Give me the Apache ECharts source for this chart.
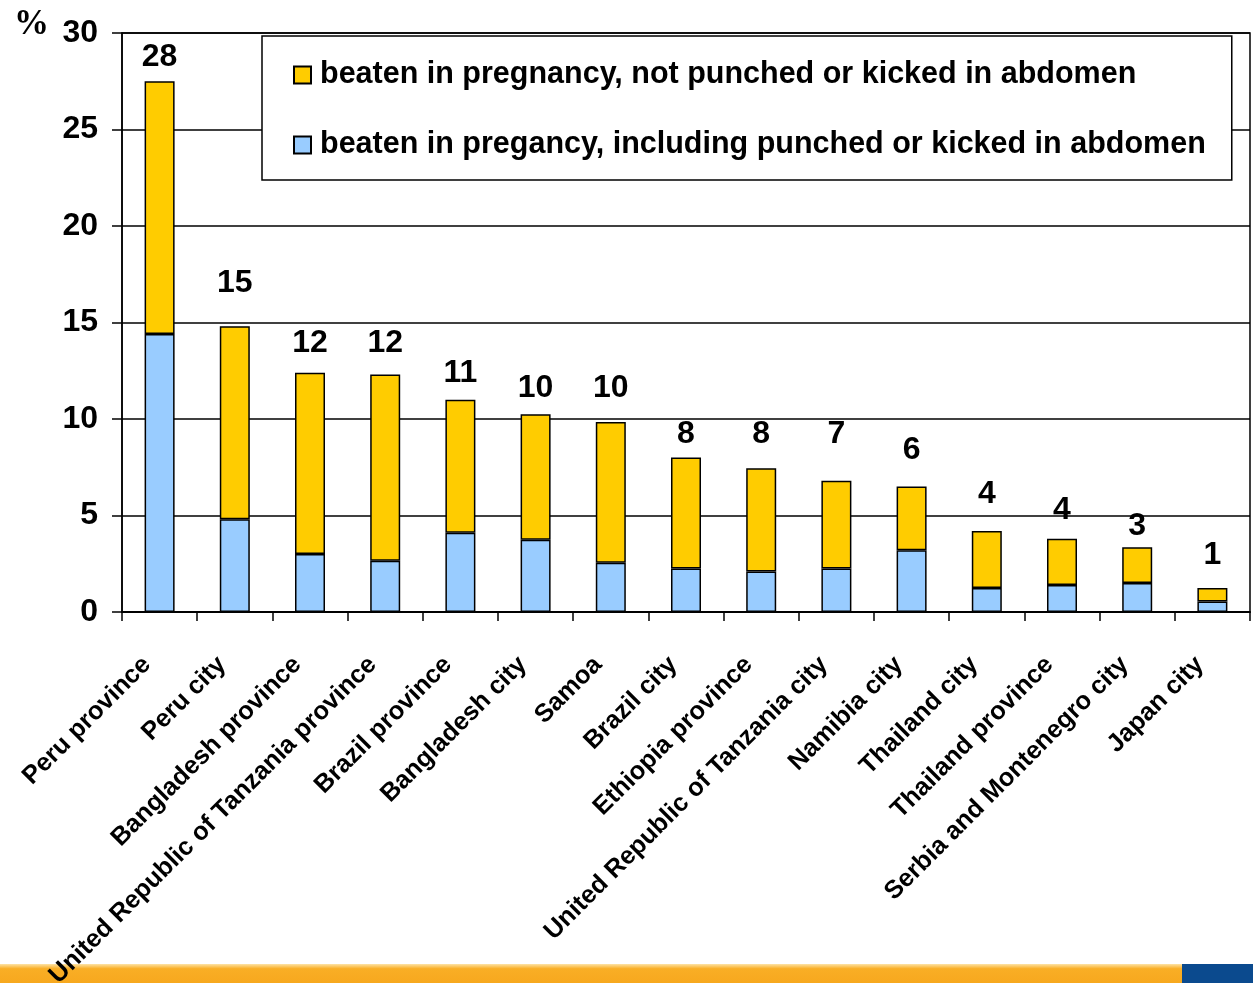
<!DOCTYPE html>
<html>
<head>
<meta charset="utf-8">
<script src="https://cdn.jsdelivr.net/npm/echarts@6/dist/echarts.min.js"></script>
<style>
    html, body { margin: 0; padding: 0; background: #fff; }
    #main { width: 1253px; height: 983px; }
</style>
</head>
<body>
<div id="main"></div>
<script>
    var categories = ['Peru province', 'Peru city', 'Bangladesh province', 'United Republic of Tanzania province',
        'Brazil province', 'Bangladesh city', 'Samoa', 'Brazil city', 'Ethiopia province',
        'United Republic of Tanzania city', 'Namibia city', 'Thailand city', 'Thailand province',
        'Serbia and Montenegro city', 'Japan city'];
    // beaten, including punched or kicked in abdomen
    var punched = [14.4, 4.8, 3.0, 2.65, 4.1, 3.75, 2.55, 2.25, 2.1, 2.25, 3.2, 1.25, 1.4, 1.5, 0.55];
    // beaten, not punched or kicked (the rest of the stack)
    var notPunched = [13.1, 10.0, 9.4, 9.65, 6.9, 6.5, 7.3, 5.75, 5.35, 4.55, 3.3, 2.95, 2.4, 1.85, 0.7];
    // totals as printed above the bars, and the height they are printed at
    var totalLabels = ['28', '15', '12', '12', '11', '10', '10', '8', '8', '7', '6', '4', '4', '3', '1'];
    var labelY = [28.75, 17.05, 13.95, 13.95, 12.35, 11.6, 11.6, 9.2, 9.2, 9.2, 8.4, 6.1, 5.3, 4.45, 2.95];
    var yTicks = [0, 5, 10, 15, 20, 25, 30];

    var legendNames = ['beaten in pregnancy, not punched or kicked in abdomen',
        'beaten in pregancy, including punched or kicked in abdomen'];

    var labelPoints = [];
    for (var i = 0; i < categories.length; i++) {
        labelPoints.push({ value: [categories[i], labelY[i]], name: totalLabels[i] });
    };

    var font = 'Liberation Sans, Arial, sans-serif';
    var chart = echarts.init(document.getElementById('main'));
    var option = {
        animation: false,
        backgroundColor: '#fff',
        textStyle: { fontFamily: font },
        grid: {
            left: 122,
            right: 3,
            top: 33,
            bottom: 371,
            show: true,
            borderColor: '#000',
            borderWidth: 1.5,
            containLabel: false,
            outerBoundsMode: 'none'
        },
        legend: {
            orient: 'vertical',
            left: 262,
            top: 36,
            padding: [22, 26, 18, 31],
            itemGap: 36,
            itemWidth: 17,
            itemHeight: 17,
            icon: 'rect',
            backgroundColor: '#fff',
            borderColor: '#000',
            borderWidth: 1.5,
            borderRadius: 0,
            data: legendNames,
            textStyle: {
                fontSize: 30.5, lineHeight: 34, fontWeight: 'bold', color: '#000',
                fontFamily: font, padding: [0, 0, 0, 4]
            }
        },
        xAxis: {
            type: 'category',
            data: categories,
            axisLine: { lineStyle: { color: '#000', width: 2 } },
            axisTick: { show: true, length: 9, lineStyle: { color: '#000', width: 1.5 } },
            axisLabel: {
                rotate: 45,
                interval: 0,
                margin: 36,
                padding: [0, 18, 0, 0],
                fontSize: 25.4,
                fontWeight: 'bold',
                color: '#000',
                fontFamily: font
            }
        },
        yAxis: {
            type: 'value',
            min: yTicks[0],
            max: yTicks[yTicks.length - 1],
            interval: 5,
            axisLine: { show: true, lineStyle: { color: '#000', width: 1.5 } },
            axisTick: { show: true, length: 10, lineStyle: { color: '#000', width: 1.5 } },
            axisLabel: { fontSize: 32, fontWeight: 'bold', color: '#000', margin: 24, fontFamily: font },
            splitLine: { lineStyle: { color: '#000', width: 1.5 } }
        },
        series: [{
            name: legendNames[1],
            type: 'bar',
            stack: 'total',
            barWidth: 30,
            data: punched,
            itemStyle: { color: '#99CCFF', borderColor: '#000', borderWidth: 1.5 }
        }, {
            name: legendNames[0],
            type: 'bar',
            stack: 'total',
            barWidth: 30,
            data: notPunched,
            itemStyle: { color: '#FFCC00', borderColor: '#000', borderWidth: 1.5 }
        }, {
            type: 'scatter',
            symbolSize: 0,
            silent: true,
            itemStyle: { opacity: 1 },
            data: labelPoints,
            label: {
                show: true,
                position: 'inside',
                formatter: function (p) { return p.name; },
                fontSize: 32,
                fontWeight: 'bold',
                color: '#000',
                fontFamily: font
            }
        }],
        graphic: [{
            type: 'text',
            left: 14,
            top: 7,
            style: { text: '%', font: 'bold 35px "Liberation Serif", serif', fill: '#000' }
        }, {
            type: 'rect',
            left: 0,
            top: 964,
            z: -1,
            shape: { width: 1182, height: 19 },
            style: {
                fill: new echarts.graphic.LinearGradient(0, 0, 0, 1, [
                    { offset: 0, color: '#FDE3A6' },
                    { offset: 0.25, color: '#F9AE25' },
                    { offset: 1, color: '#F7A81E' }
                ])
            }
        }, {
            type: 'rect',
            left: 1182,
            top: 964,
            z: -1,
            shape: { width: 71, height: 19 },
            style: { fill: '#0B4A8E' }
        }]
    };
    chart.setOption(option);
</script>
</body>
</html>
